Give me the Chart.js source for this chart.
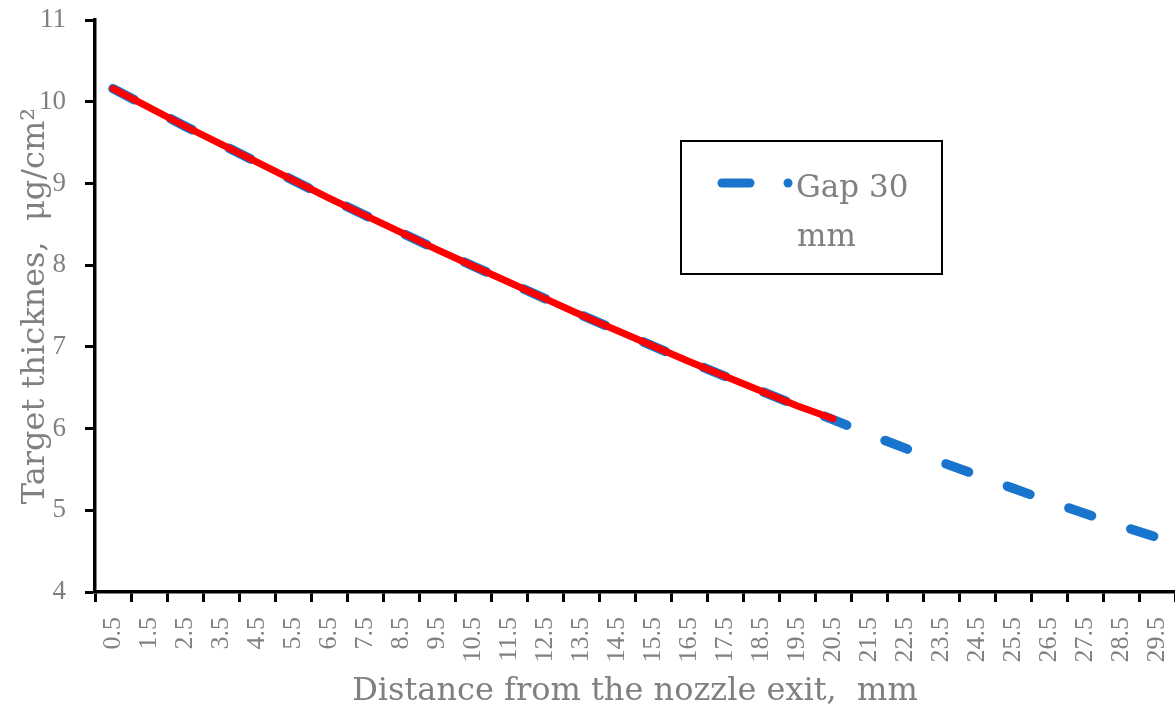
<!DOCTYPE html>
<html>
<head>
<meta charset="utf-8">
<script src="https://cdn.jsdelivr.net/npm/chart.js@4"></script>
<style>
  body { margin: 0; background: #fff; }
  #thicknessChart { display: block; }
</style>
</head>
<body>
<canvas id="thicknessChart" width="1175" height="711"></canvas>
<script>
// distance from the nozzle exit, mm (one category per mm)
var distances = ["0.5", "1.5", "2.5", "3.5", "4.5", "5.5", "6.5", "7.5", "8.5", "9.5",
	"10.5", "11.5", "12.5", "13.5", "14.5", "15.5", "16.5", "17.5", "18.5", "19.5",
	"20.5", "21.5", "22.5", "23.5", "24.5", "25.5", "26.5", "27.5", "28.5", "29.5"];

// target thickness, ug/cm2 - gap 30 mm (blue dashed)
var gap30 = [10.16, 9.93, 9.70, 9.48, 9.26, 9.04, 8.82, 8.61, 8.40, 8.19,
	7.99, 7.79, 7.59, 7.39, 7.20, 7.01, 6.82, 6.64, 6.46, 6.28,
	6.11, 5.93, 5.76, 5.59, 5.43, 5.27, 5.11, 4.96, 4.81, 4.67];

// red line, only up to 20.5 mm
var redLine = [10.16, 9.93, 9.70, 9.48, 9.26, 9.04, 8.82, 8.61, 8.40, 8.19,
	7.99, 7.79, 7.59, 7.39, 7.20, 7.01, 6.82, 6.64, 6.46, 6.28,
	6.12];

var yMin = 4;
var yMax = 11;
var yStep = 1;

var grey = "#808080";
var blue = "#1874cd";
var tickFont = "'Liberation Serif', serif";
var titleFont = "'DejaVu Serif', serif";

// legend box drawn by hand (framed box inside the plot)
var boxLegend = {
	id: "boxLegend",
	afterDraw: function (chart) {
		var c = chart.ctx;
		var ds = chart.data.datasets[0];
		c.save();
		c.strokeStyle = "#000";
		c.lineWidth = 2;
		c.strokeRect(681, 141, 261, 133);

		c.strokeStyle = ds.borderColor;
		c.lineWidth = 9;
		c.lineCap = "round";
		c.beginPath();
		c.moveTo(722, 183);
		c.lineTo(750, 183);
		c.stroke();
		c.fillStyle = ds.borderColor;
		c.beginPath();
		c.arc(788, 183, 4.5, 0, Math.PI * 2);
		c.fill();

		c.fillStyle = grey;
		c.font = "31px " + titleFont;
		c.textBaseline = "alphabetic";
		var words = ds.label.split(" ");
		c.fillText(words.slice(0, 2).join(" "), 796, 197);
		c.fillText(words.slice(2).join(" "), 797, 246);
		c.restore();
	}
};

var ctx = document.getElementById("thicknessChart").getContext("2d");
var myChart = new Chart(ctx, {
	type: "line",
	data: {
		labels: distances,
		datasets: [{
			label: "Gap 30 mm",
			data: gap30,
			borderColor: blue,
			borderWidth: 9.5,
			borderDash: [24, 41.3],
			borderCapStyle: "round",
			pointRadius: 0,
			tension: 0,
			fill: false,
			order: 2
		}, {
			label: "",
			data: redLine,
			borderColor: "#ff0000",
			borderWidth: 7,
			borderCapStyle: "round",
			pointRadius: 0,
			tension: 0,
			fill: false,
			order: 1
		}]
	},
	options: {
		responsive: false,
		animation: false,
		layout: {
			padding: { top: 20, right: 0, left: 4, bottom: 0 }
		},
		plugins: {
			legend: { display: false },
			tooltip: { enabled: false }
		},
		scales: {
			x: {
				offset: true,
				afterFit: function (scale) {
					scale.height = 119;
					scale.paddingLeft = 0;
					scale.paddingRight = 0;
				},
				grid: {
					offset: true,
					drawOnChartArea: false,
					drawTicks: true,
					tickLength: 10,
					tickWidth: 3,
					tickColor: "#000"
				},
				border: { display: true, color: "#000", width: 3.5 },
				ticks: {
					autoSkip: false,
					minRotation: 90,
					maxRotation: 90,
					color: grey,
					padding: 15,
					font: { family: tickFont, size: 26 }
				},
				title: {
					display: true,
					text: "Distance from the nozzle exit,  mm",
					color: grey,
					padding: { top: 20, bottom: 0 },
					font: { family: titleFont, size: 32 }
				}
			},
			y: {
				min: yMin,
				max: yMax,
				afterFit: function (scale) {
					scale.width = 91;
					scale.paddingTop = 0;
					scale.paddingBottom = 0;
				},
				grid: {
					drawOnChartArea: false,
					drawTicks: true,
					tickLength: 10,
					tickWidth: 3,
					tickColor: "#000"
				},
				border: { display: true, color: "#000", width: 3.5 },
				ticks: {
					stepSize: yStep,
					color: grey,
					padding: 19,
					font: { family: tickFont, size: 27 }
				},
				title: {
					display: true,
					text: "Target thicknes,  μg/cm²",
					color: grey,
					padding: { top: 12, bottom: 0 },
					font: { family: titleFont, size: 32 }
				}
			}
		}
	},
	plugins: [boxLegend]
});
</script>
</body>
</html>
